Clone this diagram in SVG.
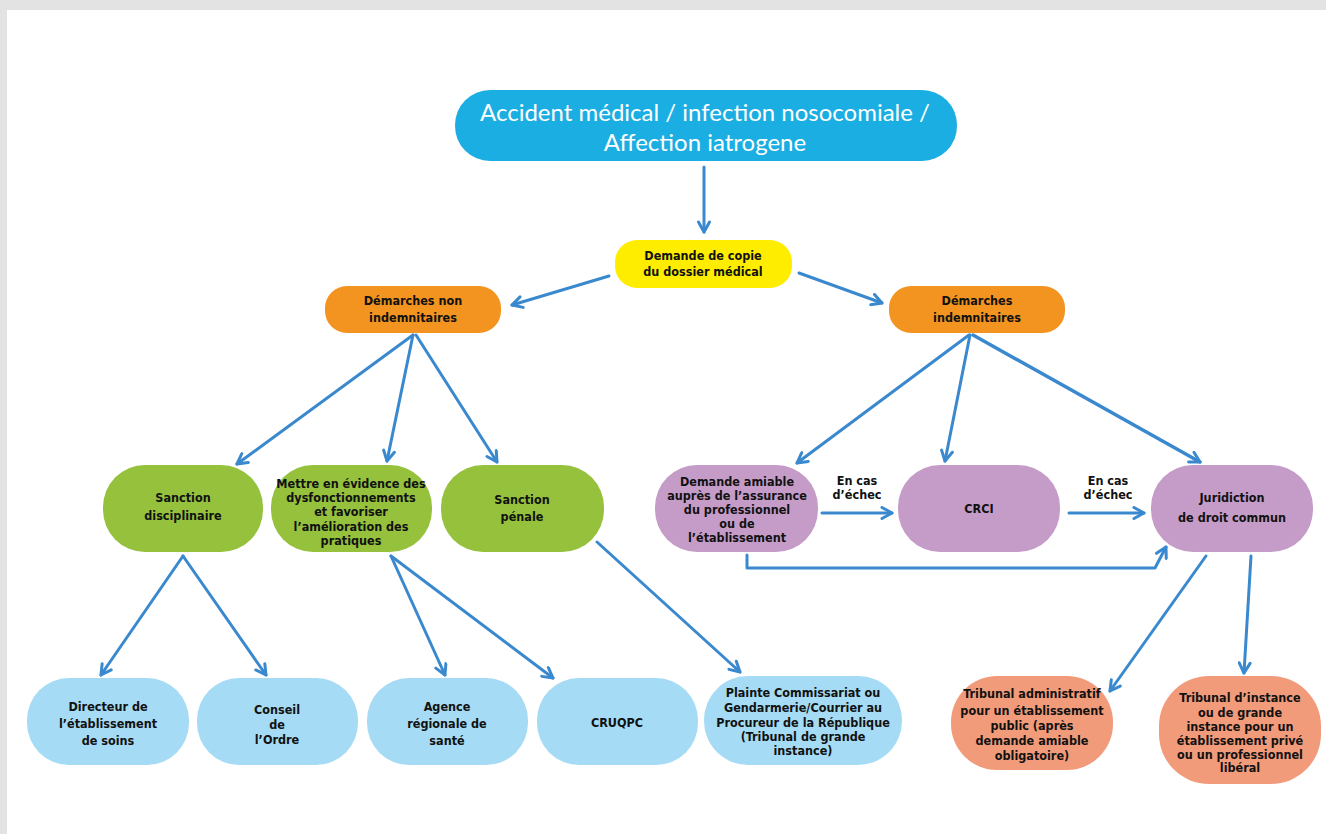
<svg xmlns="http://www.w3.org/2000/svg" width="1326" height="834" viewBox="0 0 1326 834">
<defs>
<style>
.t{font-family:"Liberation Sans Narrow","DejaVu Sans Condensed","Liberation Sans",sans-serif;font-weight:bold;font-size:12.5px;fill:#111;text-anchor:middle;}
.title{font-family:Lato,"Open Sans","Liberation Sans",sans-serif;font-size:24px;fill:#fff;text-anchor:middle;}
.e{fill:none;stroke:#3a89cf;stroke-width:3;stroke-linecap:round;stroke-linejoin:round;marker-end:url(#ah);}
.yellow{fill:#ffed00}.orange{fill:#f39320}.green{fill:#95c13d}.purple{fill:#c59cc8}.lblue{fill:#a5dbf4}.salmon{fill:#f29b7a}
</style>
<marker id="ah" viewBox="0 0 14 14" refX="12" refY="7" markerWidth="14" markerHeight="14" markerUnits="userSpaceOnUse" orient="auto">
<path d="M2,1.5 L12,7 L2,12.5" fill="none" stroke="#3a89cf" stroke-width="3" stroke-linecap="round" stroke-linejoin="round"/>
</marker>
</defs>
<rect x="0" y="0" width="1326" height="834" fill="#e3e3e3"/>
<rect x="7" y="10" width="1319" height="824" fill="#ffffff"/>

<g id="connectors">
<path class="e" d="M704,167 L704,232"/>
<path class="e" d="M609,276 L512,305"/>
<path class="e" d="M799,273 L882,303"/>
<path class="e" d="M413,335 L237,464"/>
<path class="e" d="M413,335 L387,461"/>
<path class="e" d="M416,335 L497,462"/>
<path class="e" d="M969,335 L797,463"/>
<path class="e" d="M970,335 L945,461"/>
<path class="e" d="M973,335 L1200,462" style="stroke-width:3.5"/>
<path class="e" d="M822,513 L892,513"/>
<path class="e" d="M1069,513 L1144,513"/>
<path class="e" d="M747,555 L747,568 L1155,568 L1166,547"/>
<path class="e" d="M183,556 L101,675"/>
<path class="e" d="M183,556 L266,675"/>
<path class="e" d="M391,556 L445,675"/>
<path class="e" d="M391,556 L553,678"/>
<path class="e" d="M597,542 L740,672"/>
<path class="e" d="M1206,556 L1110,691"/>
<path class="e" d="M1251,556 L1244,673"/>
</g>

<g id="n-accident">
<rect x="455" y="90" width="502" height="71" rx="35" fill="#1aaee2"/>
<text class="title" x="705" y="121">Accident médical / infection nosocomiale /</text>
<text class="title" x="705" y="151">Affection iatrogene</text>
</g>
<g id="n-copie">
<rect class="yellow" x="615" y="240" width="177" height="48" rx="22"/>
<text class="t" x="703" y="260">Demande de copie</text>
<text class="t" x="703" y="276">du dossier médical</text>
</g>
<g id="n-non-indemn">
<rect class="orange" x="325" y="286" width="176" height="47" rx="22"/>
<text class="t" x="413" y="305">Démarches non</text>
<text class="t" x="413" y="322">indemnitaires</text>
</g>
<g id="n-indemn">
<rect class="orange" x="889" y="286" width="176" height="47" rx="22"/>
<text class="t" x="977" y="305">Démarches</text>
<text class="t" x="977" y="322">indemnitaires</text>
</g>
<g id="n-disc">
<rect class="green" x="103" y="465" width="160" height="87" rx="42"/>
<text class="t" x="183" y="502">Sanction</text>
<text class="t" x="183" y="520">disciplinaire</text>
</g>
<g id="n-mettre">
<rect class="green" x="271" y="465" width="161" height="87" rx="42"/>
<text class="t" x="351" y="488">Mettre en évidence des</text>
<text class="t" x="351" y="502">dysfonctionnements</text>
<text class="t" x="351" y="516">et favoriser</text>
<text class="t" x="351" y="531">l’amélioration des</text>
<text class="t" x="351" y="545">pratiques</text>
</g>
<g id="n-penale">
<rect class="green" x="441" y="465" width="163" height="87" rx="42"/>
<text class="t" x="522" y="504">Sanction</text>
<text class="t" x="522" y="521">pénale</text>
</g>
<g id="n-amiable">
<rect class="purple" x="655" y="465" width="163" height="87" rx="42"/>
<text class="t" x="737" y="486">Demande amiable</text>
<text class="t" x="737" y="500">auprès de l’assurance</text>
<text class="t" x="737" y="514">du professionnel</text>
<text class="t" x="737" y="528">ou de</text>
<text class="t" x="737" y="542">l’établissement</text>
</g>
<g id="n-crci">
<rect class="purple" x="898" y="465" width="162" height="87" rx="42"/>
<text class="t" x="979" y="513">CRCI</text>
</g>
<g id="n-juridiction">
<rect class="purple" x="1151" y="465" width="162" height="87" rx="42"/>
<text class="t" x="1232" y="502">Juridiction</text>
<text class="t" x="1232" y="522">de droit commun</text>
</g>
<g id="lbl-echec1">
<text class="t" x="857" y="485">En cas</text>
<text class="t" x="857" y="499">d’échec</text>
</g>
<g id="lbl-echec2">
<text class="t" x="1108" y="485">En cas</text>
<text class="t" x="1108" y="499">d’échec</text>
</g>
<g id="n-directeur">
<rect class="lblue" x="27" y="678" width="162" height="87" rx="42"/>
<text class="t" x="108" y="711">Directeur de</text>
<text class="t" x="108" y="728">l’établissement</text>
<text class="t" x="108" y="745">de soins</text>
</g>
<g id="n-conseil">
<rect class="lblue" x="197" y="678" width="161" height="87" rx="42"/>
<text class="t" x="277" y="714">Conseil</text>
<text class="t" x="277" y="729">de</text>
<text class="t" x="277" y="744">l’Ordre</text>
</g>
<g id="n-agence">
<rect class="lblue" x="367" y="678" width="161" height="87" rx="42"/>
<text class="t" x="447" y="711">Agence</text>
<text class="t" x="447" y="728">régionale de</text>
<text class="t" x="447" y="745">santé</text>
</g>
<g id="n-cruqpc">
<rect class="lblue" x="537" y="678" width="161" height="87" rx="42"/>
<text class="t" x="617" y="727">CRUQPC</text>
</g>
<g id="n-plainte">
<rect class="lblue" x="704" y="676" width="198" height="89" rx="44"/>
<text class="t" x="803" y="697">Plainte Commissariat ou</text>
<text class="t" x="803" y="712">Gendarmerie/Courrier au</text>
<text class="t" x="803" y="727">Procureur de la République</text>
<text class="t" x="803" y="741">(Tribunal de grande</text>
<text class="t" x="803" y="755">instance)</text>
</g>
<g id="n-tribadmin">
<rect class="salmon" x="951" y="676" width="162" height="94" rx="46"/>
<text class="t" x="1032" y="698">Tribunal administratif</text>
<text class="t" x="1032" y="715">pour un établissement</text>
<text class="t" x="1032" y="730">public (après</text>
<text class="t" x="1032" y="745">demande amiable</text>
<text class="t" x="1032" y="760">obligatoire)</text>
</g>
<g id="n-tribinst">
<rect class="salmon" x="1159" y="676" width="162" height="108" rx="50"/>
<text class="t" x="1240" y="702">Tribunal d’instance</text>
<text class="t" x="1240" y="717">ou de grande</text>
<text class="t" x="1240" y="731">instance pour un</text>
<text class="t" x="1240" y="745">établissement privé</text>
<text class="t" x="1240" y="759">ou un professionnel</text>
<text class="t" x="1240" y="772">libéral</text>
</g>
</svg>
